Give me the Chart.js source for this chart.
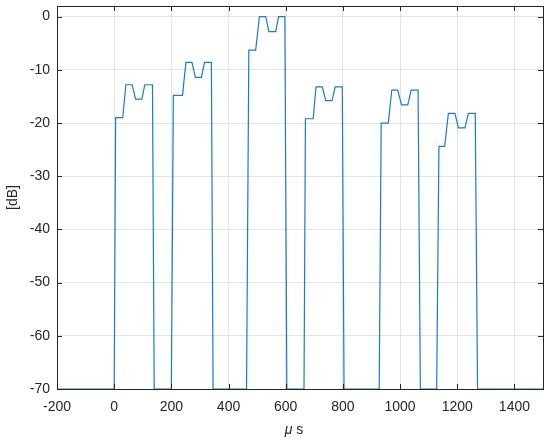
<!DOCTYPE html>
<html>
<head>
<meta charset="utf-8">
<script src="https://cdn.jsdelivr.net/npm/chart.js@4.4.1/dist/chart.umd.min.js"></script>
<style>
  html, body { margin: 0; padding: 0; background: #ffffff; }
  #wrap { width: 550px; height: 442px; }
</style>
</head>
<body>
<div id="wrap"><canvas id="c" width="550" height="442"></canvas></div>
<script>
// time samples (μs)
const timeUs = [
  -200, 0, 5, 30, 41, 63, 75, 97, 107, 134, 140,
  200, 207, 239, 251, 272, 284, 305, 316, 340, 346,
  463, 471, 495, 508, 530, 541, 565, 575, 597, 604,
  664, 669, 696, 706, 728, 740, 762, 773, 798, 804,
  927, 934, 959, 971, 992, 1005, 1027, 1039, 1063, 1071,
  1128, 1136, 1156, 1169, 1192, 1204, 1227, 1239, 1263, 1271, 1500
];
// level (dB)
const levelDb = [
  -70, -70, -19, -19, -12.8, -12.8, -15.5, -15.5, -12.8, -12.8, -70,
  -70, -14.8, -14.8, -8.6, -8.6, -11.4, -11.4, -8.6, -8.6, -70,
  -70, -6.3, -6.3, 0, 0, -2.8, -2.8, 0, 0, -70,
  -70, -19.2, -19.2, -13.2, -13.2, -15.8, -15.8, -13.2, -13.2, -70,
  -70, -20, -20, -13.8, -13.8, -16.6, -16.6, -13.8, -13.8, -70,
  -70, -24.4, -24.4, -18.2, -18.2, -20.9, -20.9, -18.2, -18.2, -70, -70
];
const xTicks = [-200, 0, 200, 400, 600, 800, 1000, 1200, 1400];
const yTicks = [-70, -60, -50, -40, -30, -20, -10, 0];
const xLabel = ['\u03bc', ' s'];
const yLabel = '[dB]';

const points = timeUs.map((t, i) => ({ x: t, y: levelDb[i] }));
const AXIS = '#262626';
const FONT = 'Arial, "Liberation Sans", Helvetica, sans-serif';

const framePlugin = {
  id: 'frame',
  afterDraw(chart) {
    const ctx = chart.ctx;
    const a = chart.chartArea;
    const xs = chart.scales.x, ys = chart.scales.y;
    ctx.save();
    ctx.strokeStyle = AXIS;
    ctx.lineWidth = 1;
    ctx.beginPath();
    const L = 5;
    xTicks.forEach(v => {
      const px = Math.round(xs.getPixelForValue(v)) + 0.5;
      ctx.moveTo(px, a.bottom); ctx.lineTo(px, a.bottom - L);
      ctx.moveTo(px, a.top); ctx.lineTo(px, a.top + L);
    });
    yTicks.forEach(v => {
      const py = Math.round(ys.getPixelForValue(v)) + 0.5;
      ctx.moveTo(a.left, py); ctx.lineTo(a.left + L, py);
      ctx.moveTo(a.right, py); ctx.lineTo(a.right - L, py);
    });
    ctx.stroke();
    ctx.strokeRect(Math.round(a.left) + 0.5, Math.round(a.top) + 0.5,
                   Math.round(a.right - a.left), Math.round(a.bottom - a.top));
    // axis titles
    ctx.fillStyle = AXIS;
    ctx.textBaseline = 'middle';
    ctx.font = 'italic 14px ' + FONT;
    const w1 = ctx.measureText(xLabel[0]).width;
    ctx.font = '14px ' + FONT;
    const w2 = ctx.measureText(xLabel[1]).width;
    const cx = 294, cy = 430;
    let sx = cx - (w1 + w2) / 2;
    ctx.textAlign = 'left';
    ctx.font = 'italic 14px ' + FONT;
    ctx.fillText(xLabel[0], sx, cy);
    ctx.font = '14px ' + FONT;
    ctx.fillText(xLabel[1], sx + w1, cy);
    ctx.translate(13, (a.top + a.bottom) / 2);
    ctx.rotate(-Math.PI / 2);
    ctx.textAlign = 'center';
    ctx.font = '14px ' + FONT;
    ctx.fillText(yLabel, 0, 0);
    ctx.restore();
  }
};

new Chart(document.getElementById('c'), {
  type: 'scatter',
  data: {
    datasets: [{
      data: points,
      showLine: true,
      borderColor: '#1a7cc4',
      backgroundColor: '#1a7cc4',
      borderWidth: 1.2,
      pointRadius: 0,
      tension: 0,
      fill: false
    }]
  },
  options: {
    responsive: false,
    animation: false,
    devicePixelRatio: 1,
    layout: { padding: { left: 0, right: 7, top: 6, bottom: 0 } },
    plugins: { legend: { display: false }, tooltip: { enabled: false } },
    scales: {
      x: {
        type: 'linear',
        min: -200, max: 1500,
        afterBuildTicks: s => { s.ticks = xTicks.map(v => ({ value: v })); },
        afterFit: s => { s.height = 53; s.paddingLeft = 0; s.paddingRight = 0; },
        grid: { color: '#e4e4e4', lineWidth: 1, drawTicks: false },
        border: { display: false },
        ticks: { color: AXIS, font: { family: FONT, size: 14 }, padding: 10, maxRotation: 0, autoSkip: false,
                 callback: v => String(v) }
      },
      y: {
        type: 'linear',
        min: -70, max: 2,
        afterBuildTicks: s => { s.ticks = yTicks.map(v => ({ value: v })); },
        afterFit: s => { s.width = 57; s.paddingTop = 0; s.paddingBottom = 0; },
        grid: { color: '#e4e4e4', lineWidth: 1, drawTicks: false },
        border: { display: false },
        ticks: { color: AXIS, font: { family: FONT, size: 14 }, padding: 7, autoSkip: false,
                 callback: v => String(v) }
      }
    }
  },
  plugins: [framePlugin]
});
</script>
</body>
</html>
